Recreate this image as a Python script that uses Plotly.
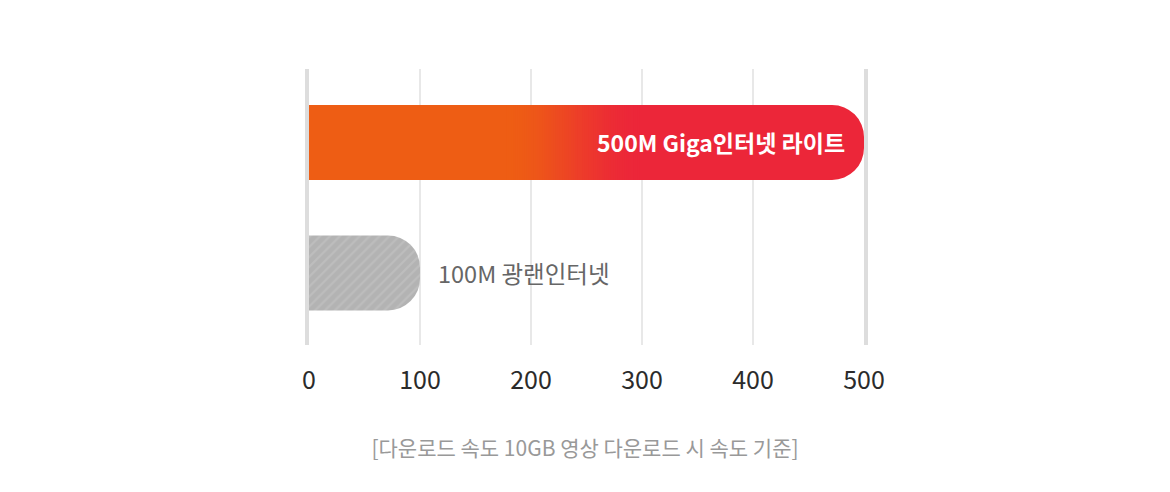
import plotly.graph_objects as go

plans = ['100M 광랜인터넷', '500M Giga인터넷 라이트']
speeds = [100, 500]
ticks = [0, 100, 200, 300, 400, 500]
note = '[다운로드 속도 10GB 영상 다운로드 시 속도 기준]'

FONT = 'Noto Sans CJK KR'
ORANGE = (238, 93, 20)
RED = (236, 38, 57)
# where the orange -> red blend happens along the fast bar (axis units)
GRAD_FROM, GRAD_TO, GRAD_STEP = 178, 300, 2

# the page body has an 8px margin, so the figure is drawn 8px in from the corner
W, H = 1154, 476


def mix(t):
    t = t * t * (3 - 2 * t)  # ease the ends of the blend
    return 'rgb(%d,%d,%d)' % tuple(round(a + (b - a) * t) for a, b in zip(ORANGE, RED))


# slow plan: grey hatched bar
slow = go.Bar(
    y=[plans[0]], x=[speeds[0]], orientation='h', width=0.575,
    marker=dict(color='#b3b3b3', cornerradius=32, line=dict(width=0),
                pattern=dict(shape='/', size=7, solidity=0.3,
                             fgcolor='#c7c7c7', bgcolor='#b3b3b3')),
    hoverinfo='skip', showlegend=False)

# fast plan: full red rounded bar, then shorter and shorter overlays fading to orange
fast = go.Bar(
    y=[plans[1]], x=[speeds[1]], orientation='h', width=0.575,
    marker=dict(color=mix(1), cornerradius=32, line=dict(width=0)),
    hoverinfo='skip', showlegend=False)

ends = list(range(GRAD_TO, GRAD_FROM - 1, -GRAD_STEP))
fade = go.Bar(
    y=[plans[1]] * len(ends), x=ends, orientation='h', width=0.575,
    marker=dict(color=[mix((e - GRAD_FROM) / (GRAD_TO - GRAD_FROM)) for e in ends],
                line=dict(width=0)),
    hoverinfo='skip', showlegend=False)

fig = go.Figure([slow, fast, fade])

fig.add_annotation(x=speeds[1], y=plans[1], text='<b>%s</b>' % plans[1],
                   xanchor='right', xshift=-17, showarrow=False,
                   font=dict(family=FONT, size=23, color='white'))
fig.add_annotation(x=speeds[0], y=plans[0], text=plans[0],
                   xanchor='left', xshift=16, showarrow=False,
                   font=dict(family=FONT, size=23.5, color='#666666'))

fig.update_layout(
    width=W, height=H,
    margin=dict(l=301, r=298, t=61, b=139),
    paper_bgcolor='white', plot_bgcolor='white',
    barmode='overlay',
    title=dict(text=note, x=0.5, xanchor='center', y=1 - 441 / H, yanchor='middle',
               font=dict(family=FONT, size=21, color='#999999')),
    xaxis=dict(range=[0, 500], tickvals=ticks, showgrid=True, gridcolor='#e8e8e8',
               gridwidth=2, zeroline=False, showline=False, ticks='',
               ticklabelstandoff=18,
               tickfont=dict(family=FONT, size=25, color='#2b2b2b')),
    yaxis=dict(type='category', categoryorder='array', categoryarray=plans,
               range=[-0.552, 1.563], showticklabels=False, showgrid=False,
               zeroline=False, showline=True, mirror=True, linewidth=4,
               linecolor='#dddddd', ticks=''),
)

fig.write_html('out.html')
